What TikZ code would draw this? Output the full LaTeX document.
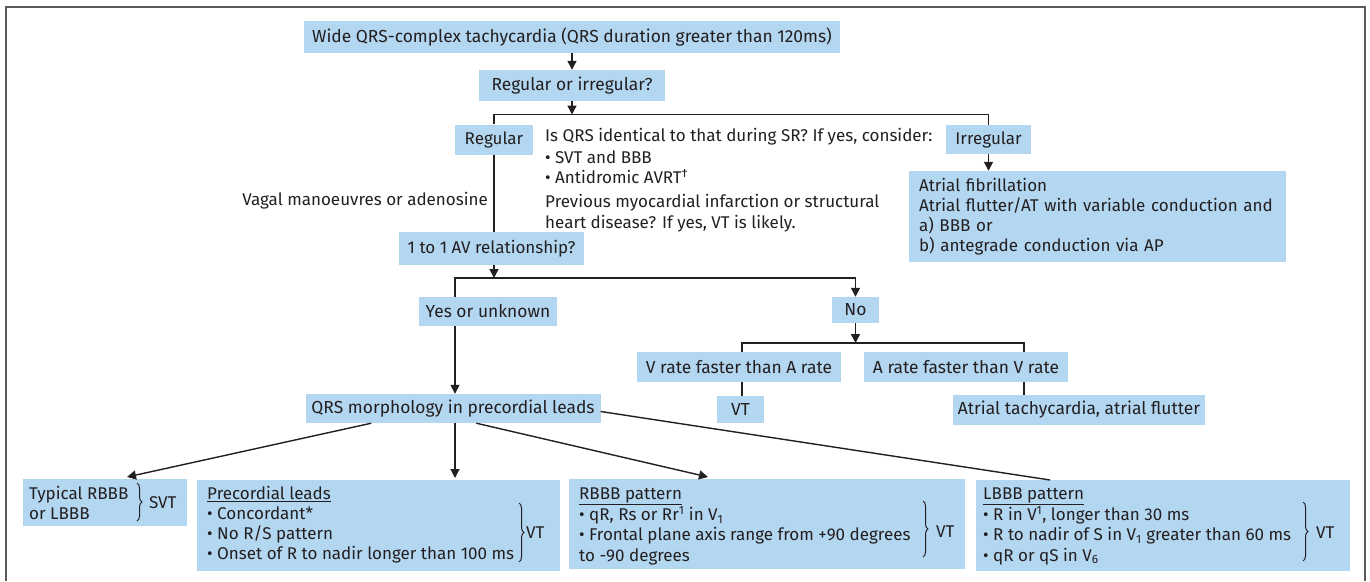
\documentclass[tikz,border=0pt]{standalone}
\usepackage{fontspec}
\setmainfont{Fira Sans}
\usetikzlibrary{arrows.meta,calc,decorations.pathreplacing}
\definecolor{boxblue}{HTML}{B3D6F1}
\definecolor{ink}{HTML}{231F20}
\definecolor{framegray}{HTML}{5A5A5A}
\newcommand\regf{\fontsize{17}{20.2}\selectfont}
\newcommand\cndf{\fontsize{17.4}{20.2}\selectfont}
\begin{document}
\begin{tikzpicture}[x=1pt,y=1pt,
  box/.style={fill=boxblue, inner sep=0pt, text=ink, font=\regf},
  cbox/.style={box, font=\cndf},
  txt/.style={inner sep=0pt, text=ink, font=\regf, align=left, anchor=north west},
  lbl/.style={inner sep=0pt, text=ink, font=\regf},
  ln/.style={draw=ink, line width=1.4pt},
  arr/.style={ln, -{Triangle[length=9pt,width=9pt]}},
  brc/.style={draw=ink, line width=1pt, decorate, decoration={brace, amplitude=5pt}},
]
\useasboundingbox (0,0) rectangle (1370,-581);
\draw[framegray, line width=1.6pt] (6,-581) -- (6,-7) -- (1365,-7) -- (1365,-581);

% top
\node[cbox, minimum width=536, minimum height=32] (wide) at (572,-37) {Wide QRS-complex tachycardia (QRS duration greater than 120ms)};
\node[cbox, minimum width=186, minimum height=31] (rq) at (572,-85.5) {Regular or irregular?};
\draw[arr] (wide.south) -- (rq.north);
\coordinate (split1) at (572,-114.5);
\node[box, minimum width=78, minimum height=30] (reg) at (494,-139.5) {Regular};
\node[box, minimum width=85, minimum height=29] (irr) at (988.5,-139.5) {Irregular};
\draw[arr] (rq.south) -- (split1);
\draw[ln] (reg.north) -- (reg.north |- split1) -- (irr.north |- split1) -- (irr.north);
\node[box, text width=357, align=left, inner xsep=10, minimum height=91] (af) at (1097.5,-216.5) {Atrial fibrillation\\Atrial flutter/AT with variable conduction and\\a) BBB or\\b) antegrade conduction via AP};
\draw[arr] (irr.south) -- (irr.south |- af.north);

\node[txt] (info) at (545,-127) {\strut Is QRS identical to that during SR? If yes, consider:\\[2pt] • SVT and BBB\\ • Antidromic AVRT\textsuperscript{†}\\[4pt] Previous myocardial infarction or structural\\ heart disease? If yes, VT is likely.};
\node[lbl, anchor=base east] (vagal) at (488,-205) {Vagal manoeuvres or adenosine};

\node[box, minimum width=185, minimum height=33] (av) at (491.5,-248.5) {1 to 1 AV relationship?};
\draw[ln] (reg.south) -- (reg.south |- av.north);
\coordinate (split2) at (494,-278);
\draw[arr] (reg.south |- av.south) -- (split2);

\node[cbox, minimum width=138, minimum height=29] (yes) at (488,-311.5) {Yes or unknown};
\node[cbox, minimum width=47, minimum height=26] (no) at (855.5,-310) {No};
\coordinate (ycol) at (455,-278);
\draw[arr] (ycol |- yes.north) -- (ycol) -- (no.north |- ycol) -- (no.north);

\node[cbox, minimum width=295, minimum height=29] (qrs) at (453,-408.5) {QRS morphology in precordial leads};
\draw[arr] (ycol |- yes.south) -- (ycol |- qrs.north);

\coordinate (split3) at (855.5,-343);
\draw[arr] (no.south) -- (split3);
\node[cbox, minimum width=204, minimum height=30] (vr) at (739,-367) {V rate faster than A rate};
\node[cbox, minimum width=204, minimum height=30] (ar) at (966,-367) {A rate faster than V rate};
\coordinate (vcol) at (742,-343);
\coordinate (acol) at (1024,-343);
\draw[ln] (vcol |- vr.north) -- (vcol) -- (acol) -- (acol |- ar.north);
\node[cbox, minimum width=47, minimum height=27] (vt) at (740.5,-409.5) {VT};
\node[cbox, minimum width=252, minimum height=30] (at) at (1079,-410) {Atrial tachycardia, atrial flutter};
\draw[ln] (vcol |- vr.south) -- (vcol |- vt.north);
\draw[ln] (acol |- ar.south) -- (acol |- at.north);

% bottom boxes
\node[box, anchor=north west, minimum width=164, minimum height=47] (typ) at (23,-479) {};
\node[box, anchor=north west, minimum width=363, minimum height=91] (prec) at (197,-480) {};
\node[box, anchor=north west, minimum width=396, minimum height=90] (rbbb) at (569,-479) {};
\node[box, anchor=north west, minimum width=374, minimum height=91] (lbbb) at (976,-480) {};

\node[txt] (typt) at (29,-485) {\strut Typical RBBB\\or LBBB};
\draw[brc] (137,-483) -- (137,-521);
\node[lbl, anchor=west] (svt) at (149,-502.5) {SVT};

\node[txt] (prect) at (207,-485) {\strut\underline{Precordial leads}\\ • Concordant*\\ • No R/S pattern\\ • Onset of R to nadir longer than 100 ms};
\draw[brc] (519,-503) -- (519,-562);
\node[lbl, anchor=west] (vt1) at (526,-533) {VT};

\node[txt] (rbbbt) at (579,-485) {\strut\underline{RBBB pattern}\\ • qR, Rs or Rr\textsuperscript{1} in V\textsubscript{1}\\ • Frontal plane axis range from +90 degrees\\ to -90 degrees};
\draw[brc] (923,-501) -- (923,-557);
\node[lbl, anchor=west] (vt2) at (936,-532) {VT};

\node[txt] (lbbbt) at (983,-485) {\strut\underline{LBBB pattern}\\ • R in V\textsuperscript{1}, longer than 30 ms\\ • R to nadir of S in V\textsubscript{1} greater than 60 ms\\ • qR or qS in V\textsubscript{6}};
\draw[brc] (1303,-502) -- (1303,-561);
\node[lbl, anchor=west] (vt3) at (1316,-533) {VT};

% connectors from QRS morphology
\draw[arr] ($(qrs.south west)+(66,0)$) -- ($(typ.north west)+(104,2)$);
\draw[arr, shorten >=2pt] (ycol |- qrs.south) -- (ycol |- prec.north);
\draw[arr] ($(qrs.south west)+(171,0)$) -- ($(rbbb.north west)+(139,2)$);
\draw[ln] ($(qrs.east)+(0,-3)$) -- ($(lbbb.north west)+(74,0)$);
\end{tikzpicture}
\end{document}
